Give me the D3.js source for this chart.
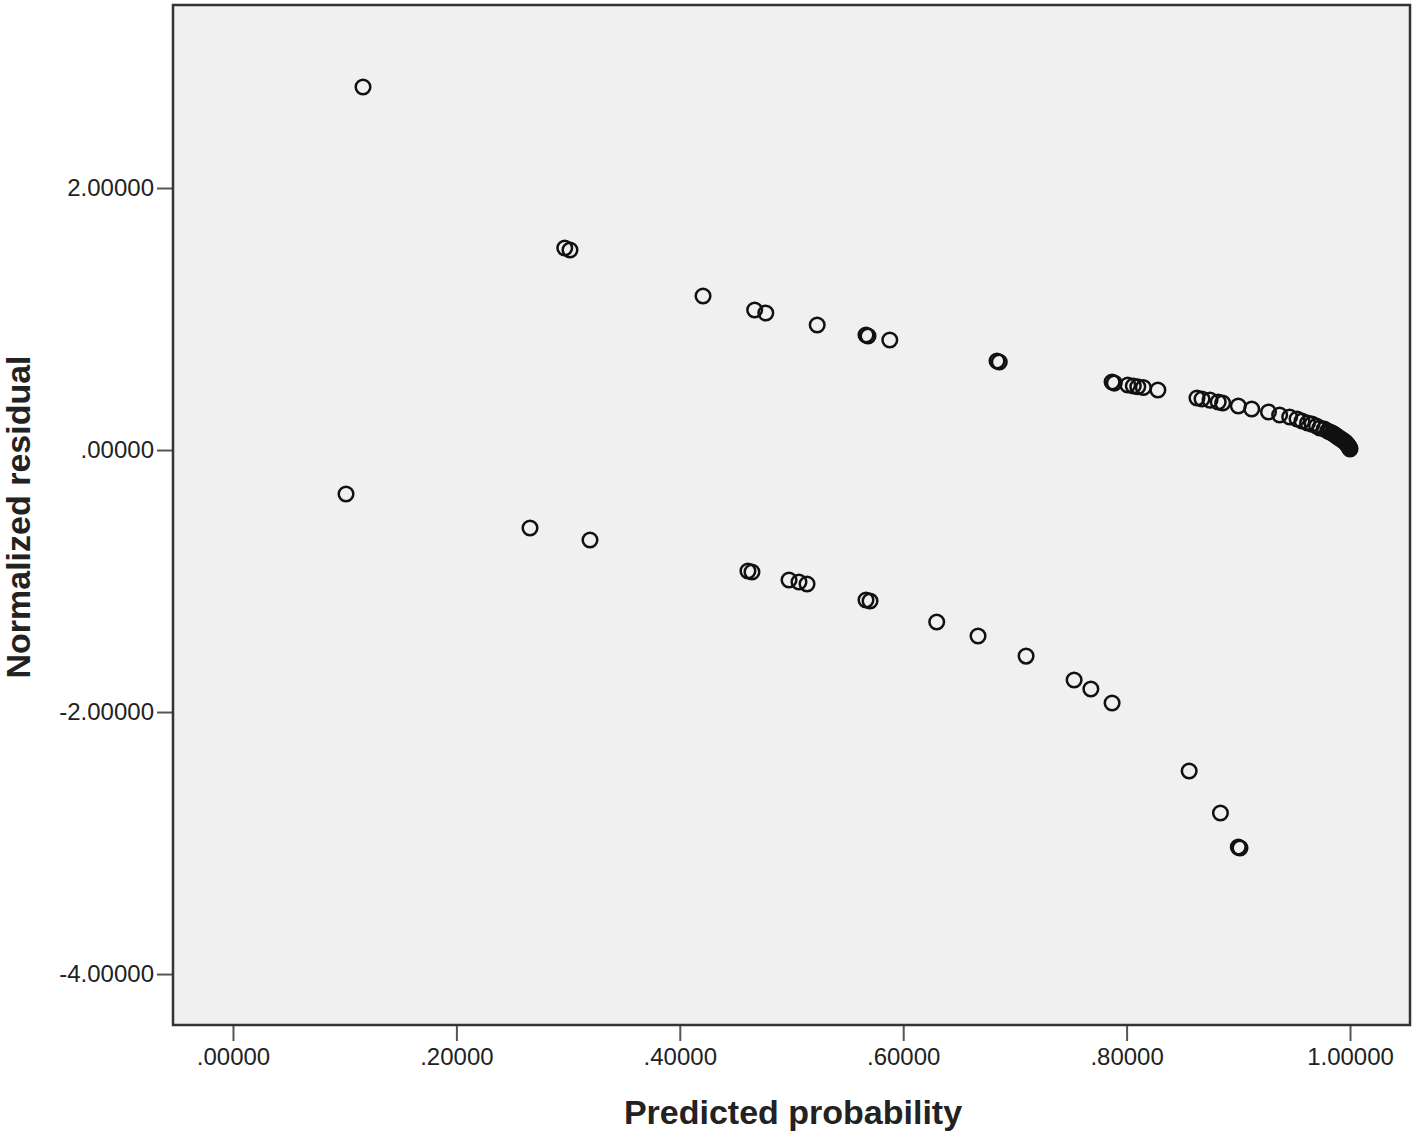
<!DOCTYPE html>
<html>
<head>
<meta charset="utf-8">
<script src="https://cdn.jsdelivr.net/npm/d3@7"></script>
<style>
  body { margin: 0; background: #fff; }
  .tick text { font-family: "Liberation Sans", Arial, sans-serif; font-size: 24px; fill: #222; }
  .tick line { stroke: #555; stroke-width: 2; }
</style>
</head>
<body>
<div id="chart"></div>
<script>
// observations with positive residual (outcome = 1)
var predictedPos = [0.1164, 0.297, 0.3017, 0.4208, 0.467, 0.477, 0.523, 0.5667, 0.5685, 0.588,
  0.684, 0.686, 0.787, 0.789, 0.801, 0.806, 0.810, 0.815, 0.828,
  0.863, 0.8675, 0.8747, 0.882, 0.886, 0.900, 0.912, 0.927, 0.937, 0.946, 0.9526,
  0.957, 0.962, 0.966, 0.970, 0.973, 0.977, 0.980, 0.982, 0.984, 0.9855, 0.9866, 0.988, 0.989,
  0.9905, 0.992, 0.993, 0.9946, 0.9955, 0.9964, 0.9972, 0.998, 0.9986, 0.9991, 0.9996, 1.0];
var residualPos = [2.771, 1.542, 1.527, 1.176, 1.069, 1.046, 0.954, 0.878, 0.870, 0.840,
  0.679, 0.672, 0.519, 0.511, 0.496, 0.489, 0.483, 0.477, 0.458,
  0.397, 0.389, 0.381, 0.366, 0.359, 0.336, 0.313, 0.290, 0.267, 0.252, 0.237,
  0.221, 0.206, 0.198, 0.183, 0.168, 0.160, 0.145, 0.137, 0.130, 0.122, 0.115, 0.107, 0.099,
  0.092, 0.084, 0.076, 0.069, 0.061, 0.053, 0.046, 0.038, 0.030, 0.023, 0.015, 0.008];

// observations with negative residual (outcome = 0)
var predictedNeg = [0.1012, 0.2659, 0.3196, 0.461, 0.4646, 0.4978, 0.5067, 0.5139, 0.5667, 0.5703,
  0.630, 0.667, 0.710, 0.753, 0.768, 0.787, 0.856, 0.884, 0.900, 0.9015];
var residualNeg = [-0.336, -0.595, -0.687, -0.924, -0.931, -0.992, -1.008, -1.023, -1.145, -1.153,
  -1.313, -1.420, -1.573, -1.756, -1.824, -1.931, -2.450, -2.771, -3.031, -3.038];

var xTicks = [0, 0.2, 0.4, 0.6, 0.8, 1.0];
var yTicks = [-4, -2, 0, 2];

var width = 1418, height = 1137;
var plot = {left: 173, right: 1410, top: 5, bottom: 1025};

var svg = d3.select("#chart").append("svg")
    .attr("width", width)
    .attr("height", height);

var x = d3.scaleLinear().domain([-0.0537, 1.0537]).range([plot.left, plot.right]);
var y = d3.scaleLinear().domain([-4.389, 3.397]).range([plot.bottom, plot.top]);

// SPSS style number format: 5 decimals, no leading zero, plain hyphen
var fmt = function(v) {
    var s = v.toFixed(5);
    return s.replace(/^0\./, ".").replace(/^-0\./, "-.");
};

svg.append("rect")
    .attr("x", plot.left).attr("y", plot.top)
    .attr("width", plot.right - plot.left)
    .attr("height", plot.bottom - plot.top)
    .style("fill", "#f0f0f0");

var xAxis = svg.append("g")
    .attr("transform", "translate(0," + plot.bottom + ")")
    .call(d3.axisBottom(x).tickValues(xTicks).tickFormat(fmt).tickSize(16).tickPadding(7));
xAxis.select(".domain").remove();

var yAxis = svg.append("g")
    .attr("transform", "translate(" + plot.left + ",0)")
    .call(d3.axisLeft(y).tickValues(yTicks).tickFormat(fmt).tickSize(16).tickPadding(3));
yAxis.select(".domain").remove();

svg.append("rect")
    .attr("x", plot.left).attr("y", plot.top)
    .attr("width", plot.right - plot.left)
    .attr("height", plot.bottom - plot.top)
    .style("fill", "none")
    .style("stroke", "#333")
    .style("stroke-width", 2.5);

var points = predictedPos.map(function(p, i) { return {p: p, r: residualPos[i]}; })
    .concat(predictedNeg.map(function(p, i) { return {p: p, r: residualNeg[i]}; }));

svg.append("g").selectAll("circle")
    .data(points)
    .enter()
    .append("circle")
    .attr("cx", function(d) { return x(d.p); })
    .attr("cy", function(d) { return y(d.r); })
    .attr("r", 7.3)
    .style("fill", "none")
    .style("stroke", "#111")
    .style("stroke-width", 2.5);

svg.append("text")
    .attr("x", 793).attr("y", 1124)
    .attr("text-anchor", "middle")
    .style("font-family", "\"Liberation Sans\", Arial, sans-serif")
    .style("font-weight", "bold")
    .style("font-size", "34px")
    .style("fill", "#222")
    .text("Predicted probability");

svg.append("text")
    .attr("transform", "translate(30,517) rotate(-90)")
    .attr("text-anchor", "middle")
    .style("font-family", "\"Liberation Sans\", Arial, sans-serif")
    .style("font-weight", "bold")
    .style("font-size", "34px")
    .style("fill", "#222")
    .text("Normalized residual");
</script>
</body>
</html>
